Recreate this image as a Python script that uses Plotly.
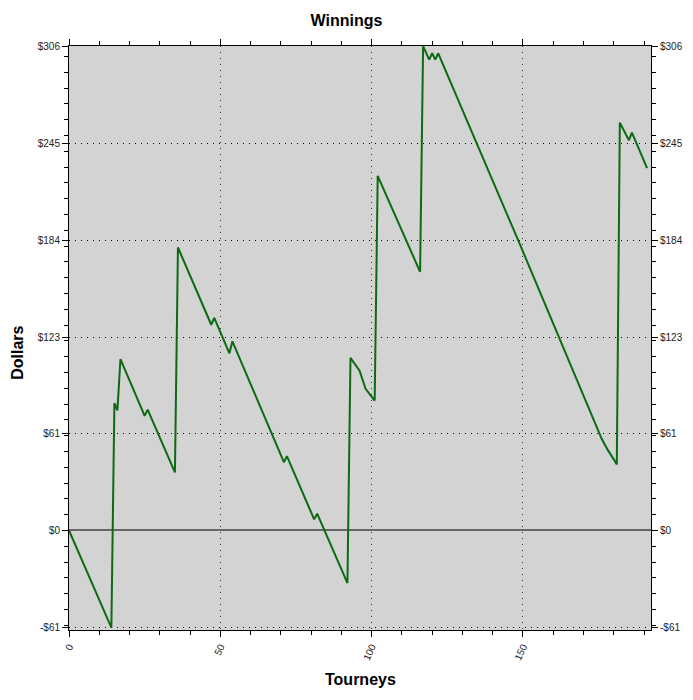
"""Winnings line chart: cumulative dollars per tourney."""

import plotly.graph_objects as go

# vertices of the cumulative winnings line
tourneys = [0, 14, 15, 16, 17, 25, 26, 35, 36, 47, 48, 53, 54, 71, 72, 81, 82, 92,
            93, 96, 98, 101, 102, 116, 117, 119, 120, 121, 122, 149, 176, 178, 180,
            181, 182, 185, 186, 191]
winnings = [0, -61.5, 80.5, 76, 108.5, 72.5, 76.5, 36.7, 179.1, 130.2, 134.5, 112.1,
            119.7, 43.2, 47.0, 7.0, 10.6, -33.3, 109.2, 101.1, 89.6, 82.2, 224.4,
            163.7, 306.5, 298, 302, 298, 302, 181, 58, 51, 45, 41.7, 258.1, 247,
            251.8, 229.3]

y_tickvals = [-61.2, 0, 61.2, 122.4, 183.6, 244.8, 306]
y_ticktext = ["-$61", "$0", "$61", "$123", "$184", "$245", "$306"]
x_tickvals = [0, 50, 100, 150]

X_RANGE = [0, 192.3]
Y_RANGE = [-63, 306.6]

FONT = "Liberation Sans, Arial, sans-serif"
GRID_DASH = "1px,5px"

fig = go.Figure()
fig.add_trace(
    go.Scatter(
        x=tourneys,
        y=winnings,
        mode="lines",
        line=dict(color="#0b6a12", width=2),
        showlegend=False,
    )
)
# same series on the right-hand axis, invisible, so that axis gets drawn
fig.add_trace(
    go.Scatter(
        x=tourneys,
        y=winnings,
        yaxis="y2",
        mode="lines",
        line=dict(color="rgba(0,0,0,0)", width=0),
        hoverinfo="skip",
        showlegend=False,
    )
)

yaxis_common = dict(
    range=Y_RANGE,
    tickmode="array",
    tickvals=y_tickvals,
    ticktext=y_ticktext,
    ticks="outside",
    ticklen=6,
    tickcolor="black",
    showline=True,
    linecolor="black",
    linewidth=1,
    automargin=False,
    tickfont=dict(family=FONT, size=10, color="#222"),
    minor=dict(tickmode="linear", tick0=0, dtick=10, ticks="outside",
               ticklen=4, tickcolor="black", showgrid=False),
)

fig.update_layout(
    width=693,
    height=700,
    margin=dict(l=69, r=42, t=46, b=70, autoexpand=False),
    paper_bgcolor="white",
    plot_bgcolor="#d3d3d3",
    title=dict(text="<b>Winnings</b>", x=0.5, xref="container", xanchor="center",
               y=0.971, yref="container", yanchor="middle",
               font=dict(family=FONT, size=16, color="black")),
    xaxis=dict(
        range=X_RANGE,
        tickmode="array",
        tickvals=x_tickvals,
        tickangle=-65,
        ticks="outside",
        ticklen=6,
        tickcolor="black",
        showline=True,
        linecolor="black",
        linewidth=1,
        mirror="ticks",
        zeroline=False,
        automargin=False,
        showgrid=True,
        gridcolor="#333",
        gridwidth=1,
        griddash=GRID_DASH,
        tickfont=dict(family=FONT, size=10, color="#222"),
        minor=dict(tickmode="linear", tick0=0, dtick=10, ticks="outside",
                   ticklen=4, tickcolor="black", showgrid=False),
    ),
    yaxis=dict(
        **yaxis_common,
        showgrid=True,
        gridcolor="black",
        gridwidth=1,
        griddash=GRID_DASH,
        zeroline=True,
        zerolinecolor="#666",
        zerolinewidth=2,
    ),
    yaxis2=dict(
        **yaxis_common,
        overlaying="y",
        side="right",
        anchor="x",
        showgrid=False,
        zeroline=False,
    ),
)

# axis titles placed as annotations in paper space
fig.add_annotation(text="<b>Tourneys</b>", xref="paper", yref="paper",
                   x=0.5, y=-0.085, xanchor="center", yanchor="middle",
                   showarrow=False, font=dict(family=FONT, size=16, color="black"))
fig.add_annotation(text="<b>Dollars</b>", xref="paper", yref="paper",
                   x=-0.089, y=0.475, xanchor="center", yanchor="middle",
                   textangle=-90, showarrow=False,
                   font=dict(family=FONT, size=16, color="black"))

# drop the page's default body margin so the figure sits at the window corner
fig.write_html(
    "out.html",
    config={"displayModeBar": False},
    post_script="document.body.style.margin = '0';",
)
